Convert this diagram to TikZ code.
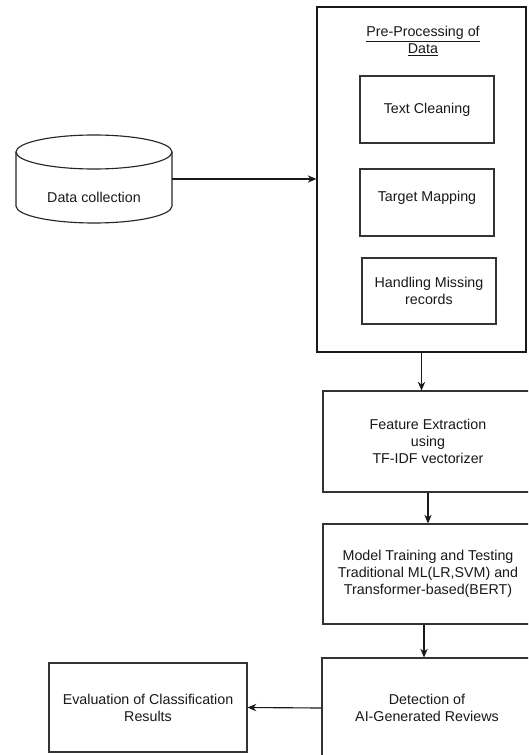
\documentclass[tikz,border=0pt]{standalone}
\usepackage{fontspec}
\setmainfont{Liberation Sans}
\usetikzlibrary{arrows.meta}

\begin{document}
\begin{tikzpicture}[
  x=0.75pt, y=-0.75pt,
  font=\fontsize{10.7pt}{12.75pt}\selectfont,
  every node/.style={text=black!90, align=center, inner sep=0pt},
  stepbox/.style={draw=black!80, line width=0.85pt, rectangle},
  outerbox/.style={draw=black!90, line width=0.9pt, rectangle},
  flow/.style={draw=black!90, line width=0.85pt, -{Stealth[length=6.5pt,width=5.5pt]}},
]
\useasboundingbox (0,0) rectangle (528,755);
\clip (0,0) rectangle (528,755);
\fill[white] (0,0) rectangle (528,755);

% data source drawn as a cylinder
\node (dc) at (94,179) [minimum width=117pt, minimum height=66pt,
  label={[name=dctext, yshift=-13.5pt]center:Data collection}] {};
\draw[black!85, line width=0.85pt]
  (16,152) -- (16,206) arc[start angle=180, end angle=0, x radius=78, y radius=17]
  -- (172,152);
\draw[black!85, line width=0.85pt] (94,152) ellipse[x radius=78, y radius=17];

% pre-processing stage
\node[outerbox, minimum width=156.75pt, minimum height=258.75pt] (pp) at (421.5,179.5) {};
\node (pptitle) at (423,41) {\underline{Pre-Processing of}\\\underline{Data}};
\node[stepbox, minimum width=100.5pt, minimum height=50.25pt] (tc) at (427,109.5) {Text Cleaning};
\node[stepbox, minimum width=100.5pt, minimum height=50.25pt,
  label={[name=tmtext, yshift=3.75pt]center:Target Mapping}] (tm) at (427,202.5) {};
\node[stepbox, minimum width=100.5pt, minimum height=49.5pt] (hm) at (429,291) {Handling Missing\\records};

% main pipeline
\node[stepbox, minimum width=157.5pt, minimum height=75.75pt] (fe) at (428,441.5)
  {Feature Extraction\\using\\TF-IDF vectorizer};
\node[stepbox, minimum width=157.5pt, minimum height=75pt] (mt) at (428,574)
  {Model Training and Testing\\Traditional ML(LR,SVM) and\\Transformer-based(BERT)};
\node[stepbox, minimum width=157.5pt, minimum height=75pt] (dt) at (427,708)
  {Detection of\\AI-Generated Reviews};
\node[stepbox, minimum width=148.5pt, minimum height=66.75pt] (ev) at (148,707.5)
  {Evaluation of Classification\\Results};

% connectors
\draw[flow] (dc.east) -- (dc.east -| pp.west);
\draw[flow] (pp.south) -- (pp.south |- fe.north);
\draw[flow] (fe.south) -- (mt.north);
\draw[flow] ([xshift=-3pt]mt.south) -- ([xshift=-3pt]mt.south |- dt.north);
\draw[flow] (dt.west) -- (ev.east);
\end{tikzpicture}
\end{document}
